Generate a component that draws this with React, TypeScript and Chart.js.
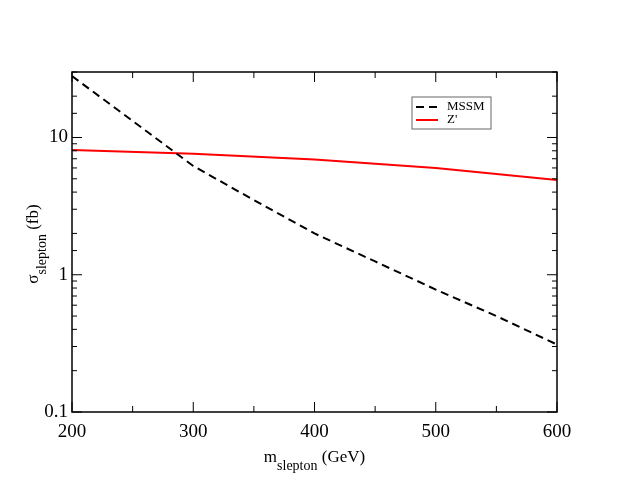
import { useEffect, useRef } from 'react';
import { Chart, registerables } from 'chart.js';

Chart.register(...registerables);

// slepton mass (GeV)
const masses = [200, 250, 300, 350, 400, 450, 500, 550, 600];
// cross sections (fb)
const mssmXsec = [28, 13.2, 6.2, 3.5, 2.0, 1.25, 0.78, 0.5, 0.31];
const zprimeMasses = [200, 300, 400, 500, 600];
const zprimeXsec = [8.1, 7.6, 6.9, 6.0, 4.9];

const seriesNames = ['MSSM', "Z'"];
const yLabelValues = [0.1, 1, 10];

const SERIF = '"Liberation Serif", "Times New Roman", serif';

const isDecade = (v: number) => Math.abs(Math.log10(v) - Math.round(Math.log10(v))) < 1e-6;

const framePlugin = {
  id: 'frame',
  afterDatasetsDraw(chart: any) {
    const { ctx, chartArea: a, scales } = chart;
    const xs = scales.x;
    const ys = scales.y;
    const seg = (x1: number, y1: number, x2: number, y2: number) => {
      ctx.beginPath();
      ctx.moveTo(x1, y1);
      ctx.lineTo(x2, y2);
      ctx.stroke();
    };
    ctx.save();
    ctx.strokeStyle = '#000';
    ctx.lineWidth = 1;

    // inward ticks, mirrored on all four sides
    xs.ticks.forEach((t: any) => {
      const px = xs.getPixelForValue(t.value);
      const len = t.value % 100 === 0 ? 10 : 6;
      seg(px, a.bottom, px, a.bottom - len);
      seg(px, a.top, px, a.top + len);
    });
    ys.ticks.forEach((t: any) => {
      const py = ys.getPixelForValue(t.value);
      const len = isDecade(t.value) ? 10 : 5;
      seg(a.left, py, a.left + len, py);
      seg(a.right, py, a.right - len, py);
    });

    ctx.lineWidth = 1.5;
    ctx.strokeRect(a.left, a.top, a.right - a.left, a.bottom - a.top);

    // legend
    const lx = a.left + 340;
    const ly = a.top + 25;
    ctx.lineWidth = 1;
    ctx.strokeStyle = '#666';
    ctx.strokeRect(lx, ly, 79, 32);
    ctx.lineWidth = 2;
    ctx.strokeStyle = '#000';
    ctx.setLineDash([8, 5]);
    seg(lx + 4, ly + 10, lx + 26, ly + 10);
    ctx.setLineDash([]);
    ctx.strokeStyle = '#ff0000';
    seg(lx + 4, ly + 23, lx + 26, ly + 23);
    ctx.fillStyle = '#000';
    ctx.font = `13px ${SERIF}`;
    ctx.textBaseline = 'middle';
    ctx.textAlign = 'left';
    ctx.fillText(seriesNames[0], lx + 35, ly + 10);
    ctx.fillText(seriesNames[1], lx + 35, ly + 23);

    // axis titles with subscripts
    const main = `17px ${SERIF}`;
    const sub = `14px ${SERIF}`;
    const drawTitle = (head: string, tail: string, cx: number, base: number) => {
      ctx.font = main;
      const w1 = ctx.measureText(head).width;
      const w3 = ctx.measureText(tail).width;
      ctx.font = sub;
      const w2 = ctx.measureText('slepton').width;
      let x = cx - (w1 + w2 + w3) / 2;
      ctx.textBaseline = 'alphabetic';
      ctx.font = main;
      ctx.fillText(head, x, base);
      x += w1;
      ctx.font = sub;
      ctx.fillText('slepton', x, base + 8);
      x += w2;
      ctx.font = main;
      ctx.fillText(tail, x, base);
    };
    drawTitle('m', ' (GeV)', (a.left + a.right) / 2, 462);

    ctx.save();
    ctx.translate(38, 244);
    ctx.rotate(-Math.PI / 2);
    drawTitle('\u03c3', ' (fb)', 0, 0);
    ctx.restore();

    ctx.restore();
  },
};

export default function App() {
  const canvasRef = useRef<HTMLCanvasElement>(null);
  const chartRef = useRef<Chart | null>(null);

  useEffect(() => {
    if (!canvasRef.current) return;
    if (chartRef.current) chartRef.current.destroy();

    chartRef.current = new Chart(canvasRef.current, {
      type: 'scatter',
      data: {
        datasets: [
          {
            label: seriesNames[0],
            data: masses.map((m, i) => ({ x: m, y: mssmXsec[i] })),
            showLine: true,
            borderColor: '#000',
            borderWidth: 2,
            borderDash: [8, 5],
            pointRadius: 0,
            tension: 0,
          },
          {
            label: seriesNames[1],
            data: zprimeMasses.map((m, i) => ({ x: m, y: zprimeXsec[i] })),
            showLine: true,
            borderColor: '#ff0000',
            borderWidth: 2,
            pointRadius: 0,
            tension: 0,
          },
        ],
      },
      options: {
        animation: false,
        responsive: true,
        maintainAspectRatio: false,
        layout: { padding: { top: 72, right: 70, left: 0, bottom: 0 } },
        plugins: { legend: { display: false }, tooltip: { enabled: false } },
        events: [],
        scales: {
          x: {
            type: 'linear',
            min: 200,
            max: 600,
            grid: { display: false, drawTicks: false },
            border: { display: false },
            ticks: {
              stepSize: 50,
              autoSkip: false,
              maxRotation: 0,
              padding: 9,
              color: '#000',
              font: { family: SERIF, size: 19 },
              callback: (v: any) => (Number(v) % 100 === 0 ? String(v) : ''),
            },
            afterFit: (s: any) => { s.height = 73; },
          },
          y: {
            type: 'logarithmic',
            min: 0.1,
            max: 30,
            grid: { display: false, drawTicks: false },
            border: { display: false },
            ticks: {
              autoSkip: false,
              padding: 4,
              color: '#000',
              font: { family: SERIF, size: 19 },
              callback: (v: any) => {
                const n = Number(v);
                const hit = yLabelValues.find(l => Math.abs(l - n) / l < 1e-6);
                return hit !== undefined ? String(hit) : '';
              },
            },
            afterFit: (s: any) => { s.width = 72; },
          },
        },
      },
      plugins: [framePlugin],
    });

    return () => {
      if (chartRef.current) { chartRef.current.destroy(); chartRef.current = null; }
    };
  }, []);

  return (
    <div style={{ position: 'fixed', left: 0, top: 0, width: 627, height: 485, background: '#fff' }}>
      <canvas ref={canvasRef} />
    </div>
  );
}
